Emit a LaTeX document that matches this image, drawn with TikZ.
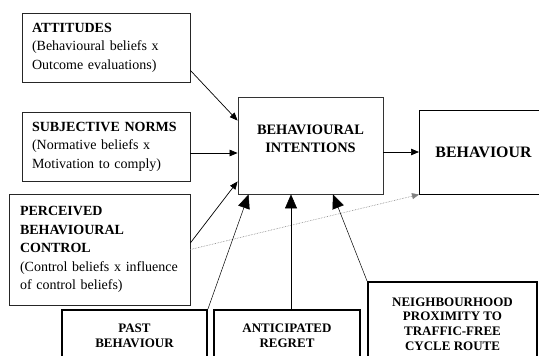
\documentclass[tikz,border=0pt]{standalone}
\usepackage{fontspec}
\setmainfont{Liberation Serif}
\usetikzlibrary{arrows.meta,calc}
\begin{document}
\begin{tikzpicture}[x=1pt,y=-1pt,
  lbox/.style={draw=black!85, line width=0.7pt, align=left, inner xsep=10pt, inner ysep=0pt,
    font=\fontsize{14}{18.5}\selectfont},
  cbox/.style={draw, line width=0.8pt, align=center, inner sep=0pt},
  bbox/.style={draw, line width=1.8pt, align=center, inner sep=0pt,
    font=\fontsize{13}{14.6}\selectfont\bfseries},
  sarrow/.style={line width=0.7pt, -{Triangle[length=8pt,width=6.5pt]}},
  barrow/.style={line width=0.5pt, -{Triangle[length=14pt,width=12pt]}},
  darrow/.style={line width=0.6pt, gray, densely dotted, -{Triangle[length=7pt,width=6pt]}}
]
\useasboundingbox (0,0) rectangle (539,356);
\clip (0,0) rectangle (539,356);

% left boxes
\node[lbox, text width=148pt, minimum height=69pt] (att) at (106,47.5)
  {\textbf{ATTITUDES}\\(Behavioural beliefs x\\Outcome evaluations)};
\node[lbox, text width=148pt, minimum height=69pt] (sn) at (106,146.5)
  {\textbf{SUBJECTIVE NORMS}\\(Normative beliefs x\\Motivation to comply)};
\node[lbox, inner xsep=11pt, text width=159pt, minimum height=111pt] (pbc) at (99.5,249.5)
  {\textbf{PERCEIVED}\\\textbf{BEHAVIOURAL}\\\textbf{CONTROL}\\(Control beliefs x influence\\of control beliefs)};

% centre and right boxes
\node[cbox, draw=black!80, minimum width=145pt, minimum height=97pt] (bi) at (310.5,145.5) {};
\node[align=center, inner sep=0pt, font=\fontsize{14.4}{18}\selectfont\bfseries] (bitext) at (310.5,139)
  {BEHAVIOURAL\\INTENTIONS};
\node[cbox, line width=1pt, minimum width=140pt, minimum height=84pt, anchor=west,
  font=\fontsize{15.9}{18}\selectfont\bfseries] (beh) at (419,152) {\hspace{-6pt}BEHAVIOUR\hspace{6pt}};

% bottom boxes
\node[bbox, minimum width=145pt, minimum height=52pt] (past) at (134.5,336) {PAST\\BEHAVIOUR};
\node[bbox, minimum width=146pt, minimum height=52pt] (ant) at (287,336) {ANTICIPATED\\REGRET};
\node[bbox, minimum width=169pt, minimum height=84pt] (nb) at (452.5,324)
  {NEIGHBOURHOOD\\PROXIMITY TO\\TRAFFIC-FREE\\CYCLE ROUTE};

% connectors
\draw[sarrow] ($(att.south east)+(0,-12)$) -- ($(bi.north west)+(0,24)$);
\draw[sarrow] ($(sn.east)+(0,6.5)$) -- ($(bi.west)+(0,7.5)$);
\draw[sarrow] ($(pbc.east)+(0,-6.5)$) -- ($(bi.south west)+(0,-13)$);
\draw[darrow] (pbc.east) -- (beh.south west);
\draw[sarrow] ($(bi.east)+(0,6.5)$) -- (beh.west);

\draw[barrow] (past.north east) -- ($(bi.south west)+(11,0)$);
\coordinate (antTop) at ($(ant.north)+(4,0)$);
\draw[barrow] (antTop) -- (antTop |- bi.south);
\draw[barrow] (nb.north west) -- ($(bi.south)+(22.5,0)$);
\end{tikzpicture}
\end{document}
